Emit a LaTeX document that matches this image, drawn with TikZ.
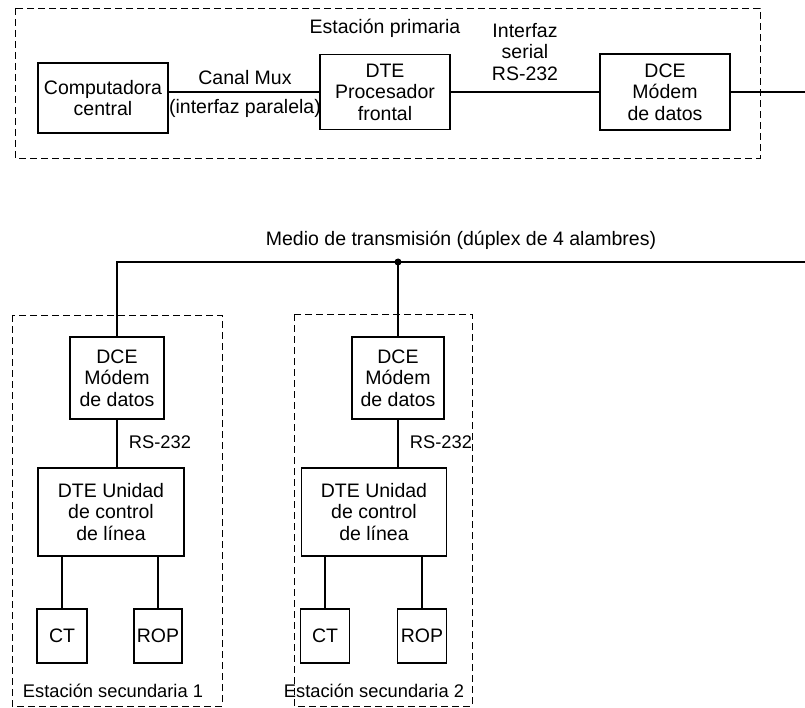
\documentclass[tikz,border=0pt]{standalone}
\usepackage{fontspec}
\setmainfont{Liberation Sans}
\begin{document}
\begin{tikzpicture}[x=1pt,y=-1pt,
  font=\fontsize{19.5}{21.5}\selectfont,
  unit/.style={draw, line width=1.6pt, align=center, inner sep=0pt},
  link/.style={line width=1.6pt},
  station/.style={draw, line width=0.9pt, dash pattern=on 7pt off 4pt},
  lbl/.style={align=center, inner sep=0pt},
  small/.style={lbl, font=\fontsize{18.3}{20}\selectfont}]
\useasboundingbox (0,0) rectangle (805,708);

% Primary station
\draw[station] (15,8) rectangle (760,158);
\node[lbl] (prim) at (385,28) {Estación primaria};
\node[unit, minimum width=130pt, minimum height=70pt] (comp) at (103,98) {Computadora\\central};
\node[unit, minimum width=130pt, minimum height=75pt] (fep) at (385,92) {DTE\\Procesador\\frontal};
\node[unit, minimum width=130pt, minimum height=76pt] (dce0) at (665,92) {DCE\\Módem\\de datos};
\coordinate (out) at (805,92);
\draw[link] (comp.east |- fep.west) -- (fep.west);
\draw[link] (fep.east) -- (dce0.west);
\draw[link] (dce0.east) -- (out);
\node[lbl] (mux) at (245,78) {Canal Mux};
\node[lbl] (par) at (245,108) {(interfaz paralela)};
\node[lbl] (ser) at (525,52) {Interfaz\\serial\\RS-232};

% Transmission medium
\coordinate (bus) at (398,262);
\coordinate (busend) at (805,262);
\node[lbl] (medio) at (461,240) {Medio de transmisión (dúplex de 4 alambres)};

% Secondary station 1
\draw[station] (12,315) rectangle (222,706);
\node[unit, minimum width=94pt, minimum height=82pt] (dce1) at (117,378) {DCE\\Módem\\de datos};
\node[unit, minimum width=146pt, minimum height=88pt] (dte1) at (111,512) {DTE Unidad\\de control\\de línea};
\node[unit, minimum width=50pt, minimum height=54pt] (ct1) at (62,636) {CT};
\node[unit, minimum width=48pt, minimum height=54pt] (rop1) at (158,636) {ROP};
\draw[link] (dce1.south) -- (dce1.south |- dte1.north);
\draw[link] (ct1.north |- dte1.south) -- (ct1.north);
\draw[link] (rop1.north |- dte1.south) -- (rop1.north);
\node[small] (rs1) at (160,442) {RS-232};
\node[small] (sec1) at (113,691) {Estación secundaria 1};

% Secondary station 2
\draw[station] (294,314) rectangle (472,706);
\node[unit, minimum width=92pt, minimum height=82pt] (dce2) at (398,378) {DCE\\Módem\\de datos};
\node[unit, minimum width=145pt, minimum height=88pt] (dte2) at (374,512) {DTE Unidad\\de control\\de línea};
\node[unit, minimum width=49pt, minimum height=54pt] (ct2) at (325,636) {CT};
\node[unit, minimum width=49pt, minimum height=54pt] (rop2) at (422,636) {ROP};
\draw[link] (dce2.south) -- (dce2.south |- dte2.north);
\draw[link] (ct2.north |- dte2.south) -- (ct2.north);
\draw[link] (rop2.north |- dte2.south) -- (rop2.north);
\node[small] (rs2) at (441,442) {RS-232};
\node[small] (sec2) at (374,691) {Estación secundaria 2};

% Bus wiring
\draw[link] (dce1.north) -- (dce1.north |- bus) -- (busend);
\draw[link] (dce2.north) -- (bus);
\fill (bus) circle (3.5pt);
\end{tikzpicture}
\end{document}
